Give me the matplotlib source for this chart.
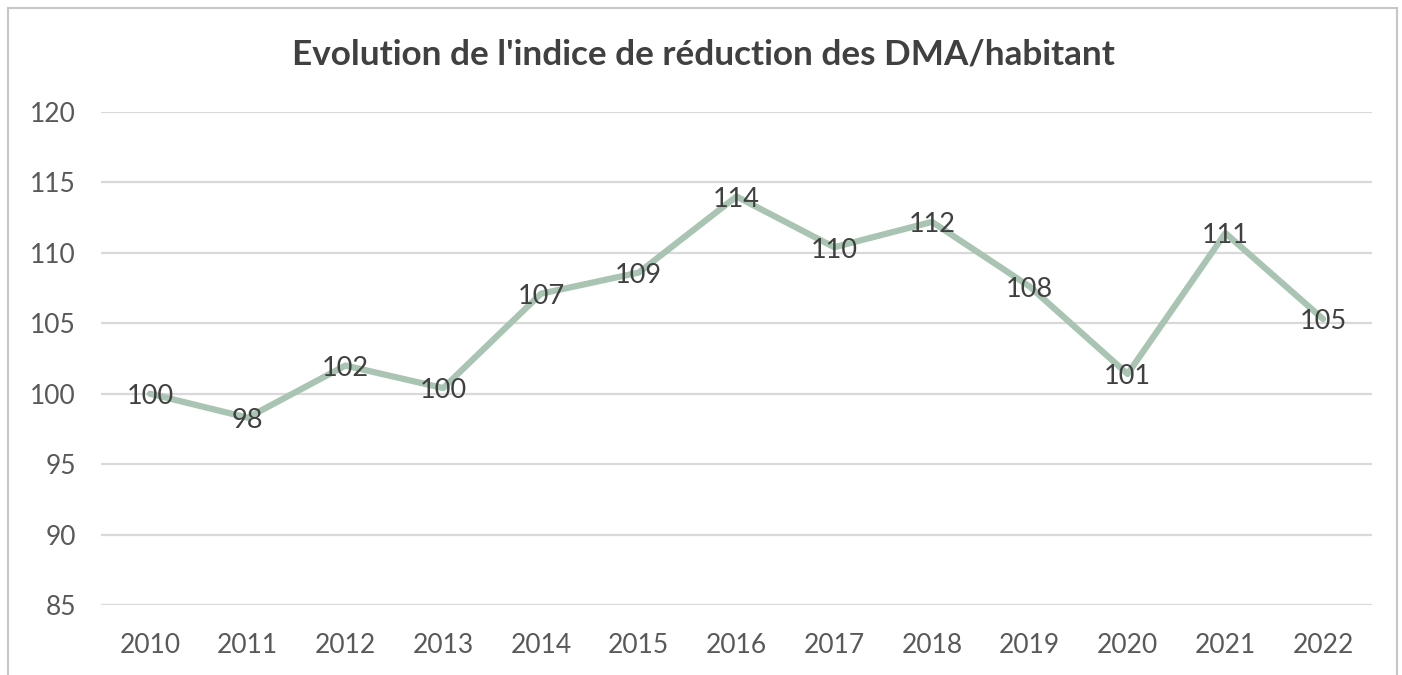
#!/usr/bin/env python3

import matplotlib.pyplot as plt
from matplotlib.patches import Rectangle

years = ["2010", "2011", "2012", "2013", "2014", "2015", "2016",
         "2017", "2018", "2019", "2020", "2021", "2022"]
index_values = [100, 98.3, 102.0, 100.4, 107.1, 108.6, 114.0,
                110.4, 112.2, 107.6, 101.4, 111.4, 105.3]
y_ticks = [85, 90, 95, 100, 105, 110, 115, 120]
title = "Evolution de l'indice de réduction des DMA/habitant"

line_color = "#a9c4b2"
grid_color = "#d9d9d9"
text_color = "#404040"
tick_color = "#595959"

plt.rcParams['font.family'] = ['Lato', 'DejaVu Sans']

W, H = 1402, 675
fig = plt.figure(figsize=(W / 100, H / 100), dpi=100)
ax = fig.add_axes([101 / W, 1 - 605 / H, (1372 - 101) / W, (605 - 112) / H])

xs = list(range(len(years)))
ax.plot(xs, index_values, color=line_color, lw=4.5, solid_capstyle='round',
        solid_joinstyle='round', zorder=3)

for x, v in zip(xs, index_values):
    ax.annotate(f"{v:.0f}", (x, v), xytext=(0, -2), textcoords='offset points',
                ha='center', va='center', fontsize=19.5,
                color=text_color, zorder=4)

ax.set_xlim(-0.5, len(years) - 0.5)
ax.set_ylim(85, 120)
ax.set_xticks(xs)
ax.set_xticklabels(years)
ax.set_yticks(y_ticks)
ax.tick_params(axis='both', length=0, labelsize=19, labelcolor=tick_color)
ax.tick_params(axis='x', pad=20)
ax.tick_params(axis='y', pad=18)
ax.grid(axis='y', color=grid_color, lw=1.6)
ax.set_axisbelow(True)
for s in ax.spines.values():
    s.set_visible(False)

fig.text(703 / W, 1 - 55 / H, title, ha='center', va='center',
         fontsize=25.3, fontweight='bold', color=text_color)

# chart border, bottom edge cut off like the screenshot
fig.patches.append(Rectangle((8 / W, -0.05), (1397 - 8) / W, 1.05 - 8 / H,
                             transform=fig.transFigure, fill=False,
                             edgecolor="#c6c6c6", lw=1.5))

fig.savefig("out.png", dpi=100, facecolor='white')
